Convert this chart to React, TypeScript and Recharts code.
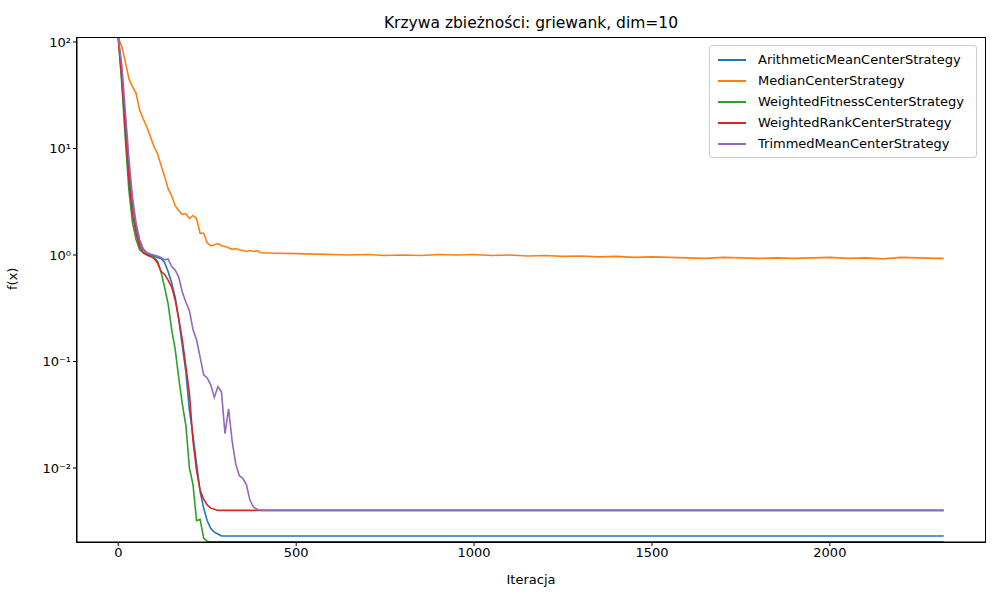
import { LineChart, Line, XAxis, YAxis } from 'recharts'

const iterations = [
  0, 10, 20, 30, 40, 50, 60, 70, 80, 90, 100, 110, 120, 130, 140, 150, 160, 170, 180, 190, 200,
  210, 220, 230, 240, 250, 260, 270, 280, 290, 300, 310, 320, 330, 340, 350, 360, 370, 380, 390, 400,
  450, 500, 550, 600, 650, 700, 750, 800, 850, 900, 950, 1000, 1050, 1100, 1150, 1200, 1250, 1300,
  1350, 1400, 1450, 1500, 1550, 1600, 1650, 1700, 1750, 1800, 1850, 1900, 1950, 2000, 2050, 2100,
  2150, 2200, 2250, 2300, 2320,
]

const tail = (v: number, n: number) => Array(n).fill(v)

const arithmetic = [
  110, 50, 18, 6, 3, 1.8, 1.3, 1.12, 1.05, 1.0, 0.98, 0.95, 0.93, 0.85, 0.7, 0.55, 0.4, 0.25, 0.14,
  0.08, 0.035, 0.02, 0.011, 0.006, 0.0042, 0.0032, 0.0027, 0.0025, 0.0024, 0.0023,
  ...tail(0.0023, 50),
]
const median = [
  110, 90, 65, 45, 38, 33, 23, 19, 16, 13, 10.5, 9, 7, 5.5, 4.2, 3.6, 2.9, 2.6, 2.4, 2.45, 2.2,
  2.35, 2.2, 1.6, 1.6, 1.3, 1.22, 1.25, 1.28, 1.22, 1.2, 1.17, 1.13, 1.15, 1.12, 1.1, 1.08, 1.1,
  1.08, 1.1, 1.05, 1.04, 1.03, 1.02, 1.01, 1.0, 1.01, 0.99, 1.0, 0.99, 1.01, 1.0, 1.01, 0.99, 1.0,
  0.98, 0.99, 0.97, 0.98, 0.96, 0.97, 0.95, 0.96, 0.95, 0.94, 0.93, 0.95, 0.94, 0.93, 0.94, 0.93,
  0.94, 0.95, 0.93, 0.94, 0.92, 0.95, 0.94, 0.93, 0.93,
]
const weightedFitness = [
  110, 40, 12, 4, 2.0, 1.4, 1.12, 1.05, 1.02, 1.0, 0.95, 0.88, 0.7, 0.5, 0.35, 0.2, 0.13, 0.07,
  0.04, 0.025, 0.01, 0.007, 0.0032, 0.0033, 0.0022, 0.00205, ...tail(0.00203, 54),
]
const weightedRank = [
  110, 45, 15, 5, 2.4, 1.6, 1.2, 1.05, 1.0, 0.97, 0.93, 0.85, 0.7, 0.66, 0.58, 0.5, 0.38, 0.25,
  0.16, 0.09, 0.05, 0.018, 0.0095, 0.0062, 0.0051, 0.0045, 0.0042, 0.0041, ...tail(0.004, 52),
]
const trimmedMean = [
  110, 60, 22, 8, 3.5, 2, 1.4, 1.15, 1.05, 1.02, 1.0, 0.98, 0.95, 0.9, 0.92, 0.78, 0.72, 0.62,
  0.45, 0.36, 0.3, 0.2, 0.16, 0.11, 0.075, 0.07, 0.06, 0.046, 0.058, 0.052, 0.021, 0.036, 0.018,
  0.011, 0.0085, 0.008, 0.007, 0.005, 0.0043, 0.0041, ...tail(0.004, 40),
]

const series = [
  { key: 'ArithmeticMeanCenterStrategy', values: arithmetic, color: '#1f77b4' },
  { key: 'MedianCenterStrategy', values: median, color: '#ff7f0e' },
  { key: 'WeightedFitnessCenterStrategy', values: weightedFitness, color: '#2ca02c' },
  { key: 'WeightedRankCenterStrategy', values: weightedRank, color: '#d62728' },
  { key: 'TrimmedMeanCenterStrategy', values: trimmedMean, color: '#9467bd' },
]

const xTicks = [0, 500, 1000, 1500, 2000]
const yTicks = [0.01, 0.1, 1, 10, 100]
const yLabels: Record<string, string> = {
  '0.01': '10⁻²', '0.1': '10⁻¹', '1': '10⁰', '10': '10¹', '100': '10²',
}

const data = iterations.map((it, i) => {
  const row: Record<string, number> = { it }
  series.forEach((s) => { row[s.key] = s.values[i] })
  return row
})

const font = 'DejaVu Sans, sans-serif'

export default function App() {
  return (
    <div style={{ position: 'absolute', left: 0, top: 0, width: 1000, height: 600, background: '#fff', fontFamily: font }}>
      <div style={{ position: 'absolute', top: 14, left: 77, width: 908, textAlign: 'center', fontSize: 15.5, color: '#000' }}>
        Krzywa zbieżności: griewank, dim=10
      </div>
      <LineChart width={1000} height={600} data={data} margin={{ top: 38, right: 15, left: 0, bottom: 0 }}>
        <XAxis
          dataKey="it"
          type="number"
          domain={[-116, 2436]}
          ticks={xTicks}
          height={58}
          tick={{ fill: '#000', fontSize: 13, fontFamily: font }}
          tickSize={4}
          stroke="#000"
          label={{ value: 'Iteracja', position: 'insideBottom', offset: 16, fill: '#000', fontSize: 13, fontFamily: font }}
        />
        <YAxis
          type="number"
          scale="log"
          domain={[0.00202, 109]}
          allowDataOverflow
          ticks={yTicks}
          width={77}
          tickFormatter={(v) => yLabels[String(v)] ?? ''}
          tick={{ fill: '#000', fontSize: 13, fontFamily: font }}
          tickSize={4}
          stroke="#000"
          label={{ value: 'f(x)', angle: -90, position: 'insideLeft', offset: 12, fill: '#000', fontSize: 13, fontFamily: font }}
        />
        {series.map((s) => (
          <Line key={s.key} dataKey={s.key} stroke={s.color} strokeWidth={1.6} dot={false} isAnimationActive={false} />
        ))}
      </LineChart>
      <div style={{ position: 'absolute', left: 76, top: 37, width: 908, height: 504, border: '1px solid #000', pointerEvents: 'none' }} />
      <div style={{ position: 'absolute', left: 709, top: 45, width: 266, padding: '3px 0', border: '1px solid #ccc', borderRadius: 3, background: 'rgba(255,255,255,0.8)', fontSize: 13 }}>
        {series.map((s) => (
          <div key={s.key} style={{ display: 'flex', alignItems: 'center', height: 21 }}>
            <span style={{ display: 'inline-block', width: 28, height: 2, background: s.color, margin: '0 12px 0 8px' }} />
            {s.key}
          </div>
        ))}
      </div>
    </div>
  )
}
